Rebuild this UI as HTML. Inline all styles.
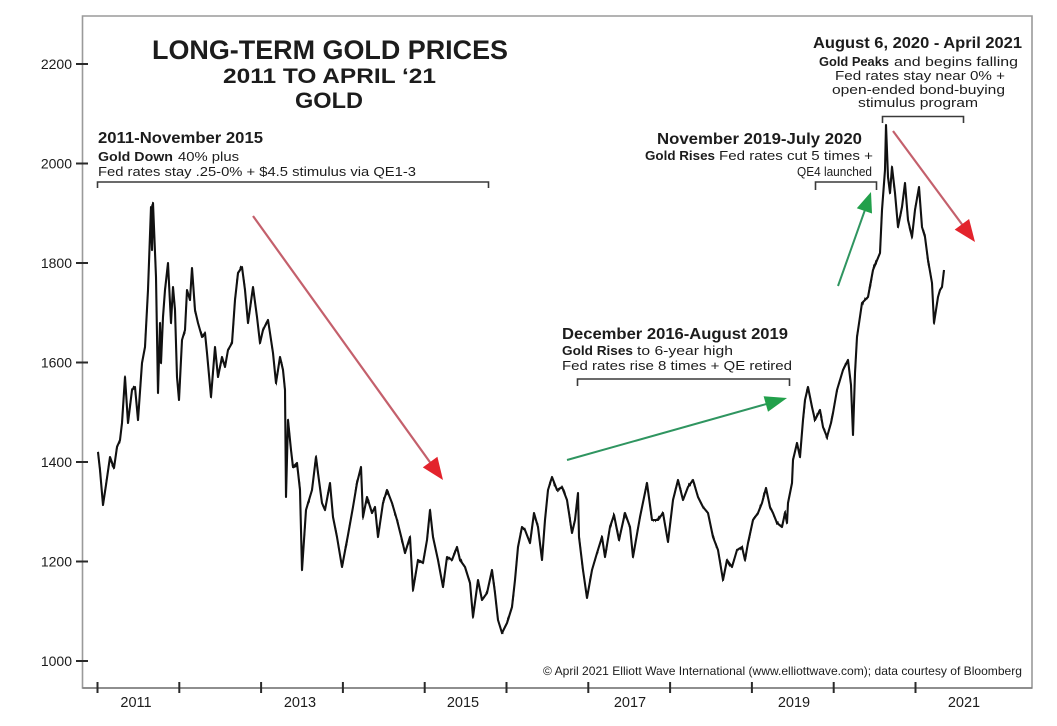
<!DOCTYPE html>
<html>
<head>
<meta charset="utf-8">
<style>
  html, body { margin:0; padding:0; background:#ffffff; }
  body { width:1057px; height:726px; overflow:hidden; }
  svg { display:block; }
  text { font-family: "Liberation Sans", Arial, sans-serif; fill:#1c1c1c; }
  .b { font-weight:bold; }
</style>
</head>
<body>
<svg id="chart" width="1057" height="726" viewBox="0 0 1057 726" xmlns="http://www.w3.org/2000/svg">
  <defs>
    <filter id="jit" filterUnits="userSpaceOnUse" x="80" y="100" width="900" height="560">
      <feTurbulence type="fractalNoise" baseFrequency="0.45 0.04" numOctaves="2" seed="7" result="t"/>
      <feColorMatrix in="t" type="matrix" values="0 0 0 0 0.5  0 1 0 0 0  0 0 0 0 0  0 0 0 0 1" result="m"/>
      <feDisplacementMap in="SourceGraphic" in2="m" scale="9" xChannelSelector="R" yChannelSelector="G"/>
    </filter>
  </defs>
  <rect x="0" y="0" width="1057" height="726" fill="#ffffff"/>

  <!-- frame -->
  <path d="M82.5,16 H1032 V688 H82.5 Z" fill="none" stroke="#9a9a9a" stroke-width="1.6"/>
  <line x1="82.5" y1="688" x2="1032" y2="688" stroke="#7a7a7a" stroke-width="1.6"/>

  <!-- y ticks -->
  <g stroke="#2a2a2a" stroke-width="2">
    <line x1="76" y1="64" x2="88" y2="64"/>
    <line x1="76" y1="163.5" x2="88" y2="163.5"/>
    <line x1="76" y1="263" x2="88" y2="263"/>
    <line x1="76" y1="362.5" x2="88" y2="362.5"/>
    <line x1="76" y1="462" x2="88" y2="462"/>
    <line x1="76" y1="561.5" x2="88" y2="561.5"/>
    <line x1="76" y1="661" x2="88" y2="661"/>
  </g>
  <g font-size="14" text-anchor="end">
    <text x="72" y="69">2200</text>
    <text x="72" y="168.5">2000</text>
    <text x="72" y="268">1800</text>
    <text x="72" y="367.5">1600</text>
    <text x="72" y="467">1400</text>
    <text x="72" y="566.5">1200</text>
    <text x="72" y="666">1000</text>
  </g>

  <!-- x ticks -->
  <g stroke="#2a2a2a" stroke-width="2">
    <line x1="97.5" y1="682" x2="97.5" y2="693"/>
    <line x1="179.3" y1="682" x2="179.3" y2="693"/>
    <line x1="261.1" y1="682" x2="261.1" y2="693"/>
    <line x1="342.9" y1="682" x2="342.9" y2="693"/>
    <line x1="424.7" y1="682" x2="424.7" y2="693"/>
    <line x1="506.5" y1="682" x2="506.5" y2="693"/>
    <line x1="588.3" y1="682" x2="588.3" y2="693"/>
    <line x1="670.1" y1="682" x2="670.1" y2="693"/>
    <line x1="751.9" y1="682" x2="751.9" y2="693"/>
    <line x1="833.7" y1="682" x2="833.7" y2="693"/>
    <line x1="915.5" y1="682" x2="915.5" y2="693"/>
  </g>
  <g font-size="14.5" text-anchor="middle">
    <text x="136" y="707">2011</text>
    <text x="300" y="707">2013</text>
    <text x="463" y="707">2015</text>
    <text x="630" y="707">2017</text>
    <text x="794" y="707">2019</text>
    <text x="964" y="707">2021</text>
  </g>

  <!-- title -->
  <text class="b" x="152" y="59" font-size="26.5" textLength="356" lengthAdjust="spacingAndGlyphs">LONG-TERM GOLD PRICES</text>
  <text class="b" x="223" y="83" font-size="21" textLength="213" lengthAdjust="spacingAndGlyphs">2011 TO APRIL ‘21</text>
  <text class="b" x="295" y="108" font-size="22" textLength="68" lengthAdjust="spacingAndGlyphs">GOLD</text>

  <!-- annotation 1 -->
  <text class="b" x="98" y="143" font-size="15.5" textLength="165" lengthAdjust="spacingAndGlyphs">2011-November 2015</text>
  <text class="b" x="98" y="161" font-size="13" textLength="75" lengthAdjust="spacingAndGlyphs">Gold Down</text>
  <text x="178" y="161" font-size="13" textLength="61" lengthAdjust="spacingAndGlyphs">40% plus</text>
  <text x="98" y="176" font-size="13" textLength="318" lengthAdjust="spacingAndGlyphs">Fed rates stay .25-0% + $4.5 stimulus via QE1-3</text>
  <path d="M97.5,188 V182 H488.5 V188" fill="none" stroke="#3a3a3a" stroke-width="1.6"/>

  <!-- annotation 4 (top right) -->
  <text class="b" x="813" y="48" font-size="15.5" textLength="209" lengthAdjust="spacingAndGlyphs">August 6, 2020 - April 2021</text>
  <text class="b" x="819" y="66" font-size="13" textLength="70" lengthAdjust="spacingAndGlyphs">Gold Peaks</text>
  <text x="894" y="66" font-size="13" textLength="124" lengthAdjust="spacingAndGlyphs">and begins falling</text>
  <text x="835" y="80" font-size="13" textLength="170" lengthAdjust="spacingAndGlyphs">Fed rates stay near 0% +</text>
  <text x="832" y="94" font-size="13" textLength="173" lengthAdjust="spacingAndGlyphs">open-ended bond-buying</text>
  <text x="858" y="107" font-size="13" textLength="120" lengthAdjust="spacingAndGlyphs">stimulus program</text>
  <path d="M882.5,123 V116.5 H963.5 V123" fill="none" stroke="#3a3a3a" stroke-width="1.6"/>

  <!-- annotation 3 -->
  <text class="b" x="657" y="144" font-size="15.5" textLength="205" lengthAdjust="spacingAndGlyphs">November 2019-July 2020</text>
  <text class="b" x="645" y="160" font-size="13" textLength="70" lengthAdjust="spacingAndGlyphs">Gold Rises</text>
  <text x="719" y="160" font-size="13" textLength="154" lengthAdjust="spacingAndGlyphs">Fed rates cut 5 times +</text>
  <text x="797" y="176" font-size="13" textLength="75" lengthAdjust="spacingAndGlyphs">QE4 launched</text>
  <path d="M815.5,190 V182 H876.5 V190" fill="none" stroke="#3a3a3a" stroke-width="1.6"/>

  <!-- annotation 2 -->
  <text class="b" x="562" y="339" font-size="15.5" textLength="226" lengthAdjust="spacingAndGlyphs">December 2016-August 2019</text>
  <text class="b" x="562" y="355" font-size="13" textLength="71" lengthAdjust="spacingAndGlyphs">Gold Rises</text>
  <text x="637" y="355" font-size="13" textLength="96" lengthAdjust="spacingAndGlyphs">to 6-year high</text>
  <text x="562" y="370" font-size="13" textLength="230" lengthAdjust="spacingAndGlyphs">Fed rates rise 8 times + QE retired</text>
  <path d="M577.5,386 V379 H789.5 V386" fill="none" stroke="#3a3a3a" stroke-width="1.6"/>

  <!-- copyright -->
  <text x="543" y="675" font-size="12" fill="#333" textLength="479" lengthAdjust="spacingAndGlyphs">© April 2021 Elliott Wave International (www.elliottwave.com); data courtesy of Bloomberg</text>

  <!-- arrows -->
  <line x1="253" y1="216" x2="432" y2="465" stroke="#c4606c" stroke-width="2.2"/>
  <polygon points="443,480 422.8,467.4 437.4,456.8" fill="#e3232c"/>
  <line x1="893" y1="131" x2="964" y2="227" stroke="#c4606c" stroke-width="2.2"/>
  <polygon points="975,242 954.7,229.6 969.1,219.0" fill="#e3232c"/>
  <line x1="567" y1="460" x2="770" y2="403" stroke="#2f9560" stroke-width="2"/>
  <polygon points="787,398 768,411.7 763.6,396.3" fill="#22a04b"/>
  <line x1="838" y1="286" x2="866" y2="207" stroke="#2f9560" stroke-width="2"/>
  <polygon points="871,192 872,213.5 856.8,208.3" fill="#22a04b"/>

  <!-- gold series -->
  <defs>
    <polyline id="gp" fill="none" stroke-linejoin="round"
    points="98,452 100,470 103,505 106,485 110,457 114,468 117,447 120,440 122,423 125,377 128,423 132,390 135,387 138,420 142,363 145,347 148,290 151,207 152,250 153,203 156,277 158,393 160,323 161,363 163,317 165,290 168,263 171,323 173,287 175,310 177,377 179,400 182,340 185,330 187,290 190,300 192,268 195,310 198,323 202,337 205,333 207,353 211,397 215,347 218,377 222,357 225,367 228,350 232,343 235,300 238,273 242,267 245,290 248,323 253,287 257,317 260,343 263,330 268,320 270,333 273,353 276,383 280,357 283,370 285,390 286,497 288,420 291,450 293,467 297,463 300,490 302,570 306,510 309,500 312,490 316,457 318,473 322,503 325,510 330,483 333,517 337,537 342,567 348,535 353,507 357,483 361,467 363,517 367,497 372,513 375,507 378,537 383,503 387,490 392,503 397,520 402,540 405,553 410,537 413,590 418,560 423,563 427,540 430,510 433,537 438,560 443,587 447,557 452,560 457,547 460,560 465,567 470,583 473,617 478,580 482,600 487,593 492,570 495,593 498,620 502,633 507,623 512,607 515,580 518,547 522,527 525,530 530,543 534,513 538,527 542,560 545,520 548,490 552,477 557,490 562,487 567,500 572,533 575,520 578,493 579,537 583,570 587,598 592,570 597,553 602,537 605,557 610,527 614,515 619,540 625,513 630,527 633,557 640,517 647,483 652,520 658,520 663,513 668,542 673,500 678,480 683,500 688,487 693,480 698,497 703,507 708,513 713,537 718,550 723,580 727,560 732,567 737,550 742,547 745,560 748,543 753,520 758,513 762,503 766,488 770,507 773,513 777,523 782,527 785,513 787,523 788,503 792,483 793,460 797,443 800,457 803,420 805,400 808,387 812,407 815,420 820,410 823,427 827,437 831,423 833,413 837,390 840,380 843,370 848,360 851,385 853,435 855,373 857,337 862,303 868,297 873,270 880,253 882,210 885,170 886,125 888,177 890,193 892,167 895,193 898,227 902,207 905,183 908,220 912,237 915,210 919,187 922,227 925,237 928,260 932,283 934,323 936,310 938,297 940,290 942,287 944,270"/>
  </defs>
  <use href="#gp" stroke="#111" stroke-width="1.3" filter="url(#jit)"/>
  <use href="#gp" stroke="#111" stroke-width="2.1"/>
</svg>
</body>
</html>
